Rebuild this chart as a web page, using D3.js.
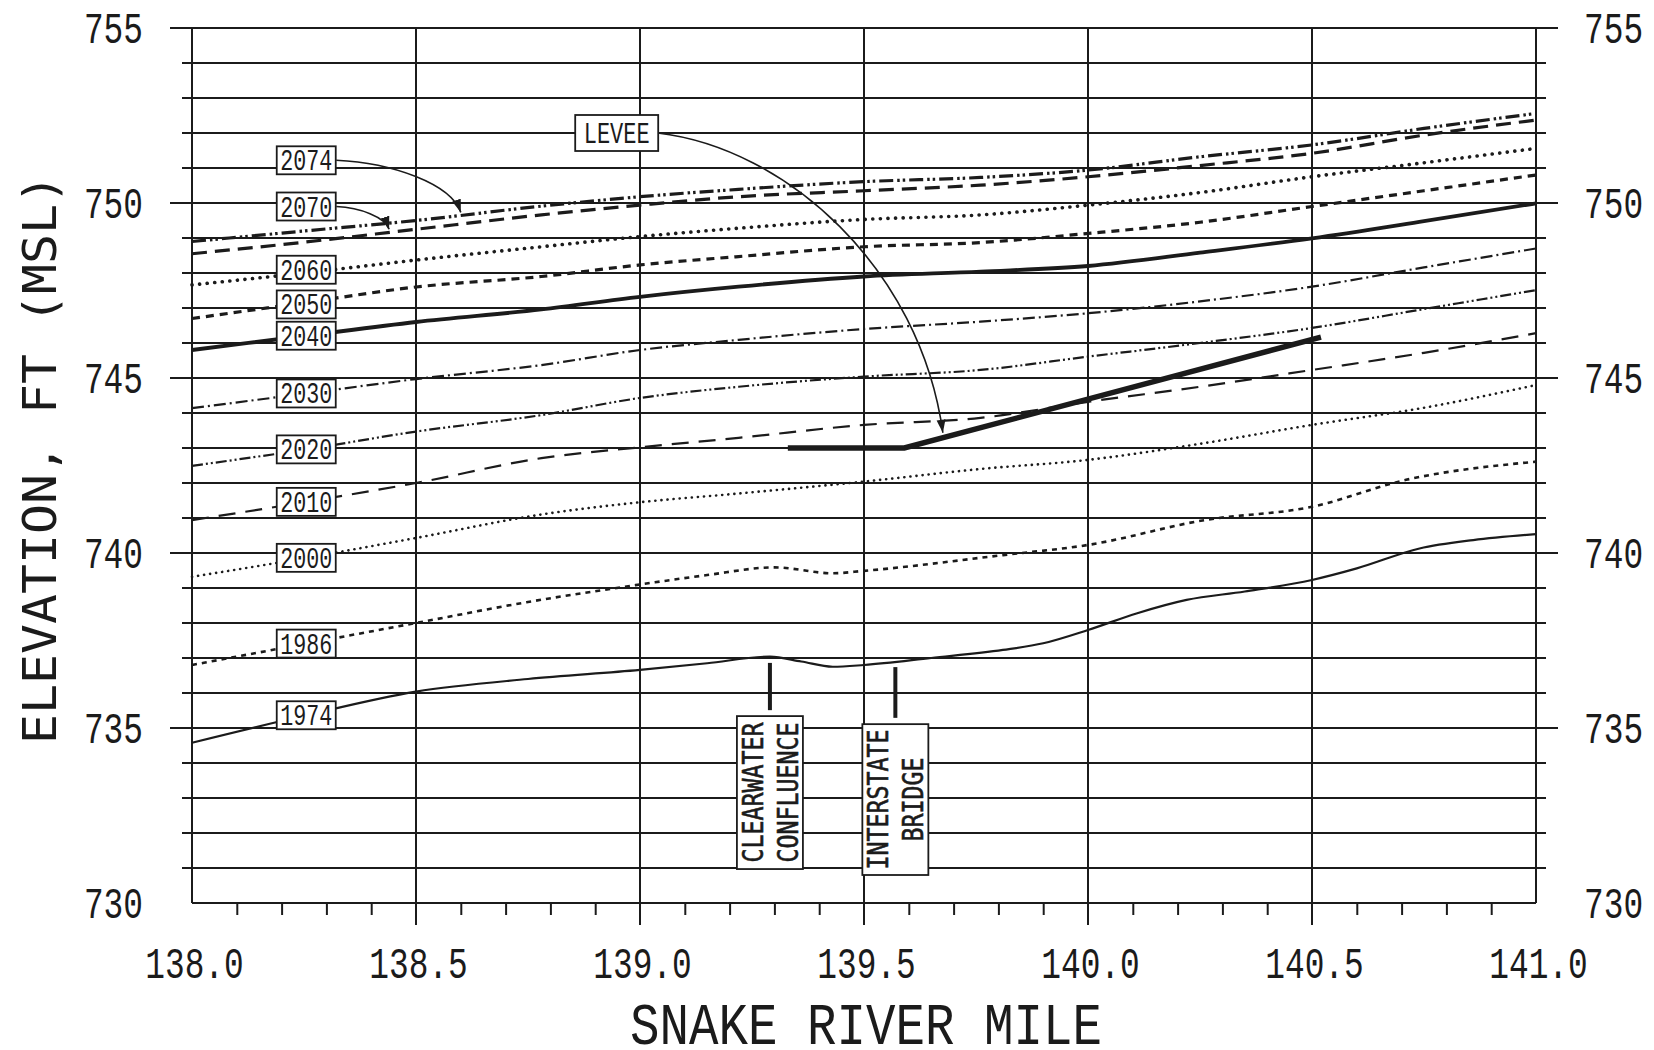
<!DOCTYPE html>
<html>
<head>
<meta charset="utf-8">
<script src="https://cdn.jsdelivr.net/npm/d3@7"></script>
<style>
  html, body { margin: 0; padding: 0; background: #fff; }
  svg { display: block; }
</style>
</head>
<body>
<div id="chart"></div>
<script>
/*************************************/
/* Data                              */
/*************************************/

// River miles where the projected water surfaces were read
const miles = [138.0, 138.25, 138.5, 138.78, 139.0, 139.22, 139.5, 139.76, 140.0, 140.25, 140.5, 140.75, 141.0];

// Projected water surface elevations, ft (MSL)
const wse2074 = [748.9, 749.2, 749.5, 749.91, 750.18, 750.39, 750.61, 750.73, 750.94, 751.32, 751.66, 752.13, 752.56];
const wse2070 = [748.55, 748.88, 749.25, 749.66, 749.94, 750.18, 750.35, 750.51, 750.75, 751.07, 751.42, 751.94, 752.37];
const wse2060 = [747.66, 748.0, 748.37, 748.75, 749.04, 749.28, 749.53, 749.66, 749.94, 750.3, 750.75, 751.15, 751.56];
const wse2050 = [746.7, 747.15, 747.6, 747.9, 748.23, 748.47, 748.75, 748.87, 749.13, 749.45, 749.9, 750.35, 750.8];
const wse2040 = [745.8, 746.2, 746.6, 746.96, 747.32, 747.61, 747.9, 748.04, 748.2, 748.58, 748.99, 749.48, 749.99];
const wse2030 = [744.14, 744.55, 744.97, 745.37, 745.8, 746.09, 746.4, 746.61, 746.85, 747.19, 747.61, 748.16, 748.7];
const wse2020 = [742.49, 742.95, 743.47, 743.94, 744.43, 744.75, 745.04, 745.23, 745.61, 746.0, 746.43, 746.97, 747.51];
const wse2010 = [740.94, 741.45, 742.0, 742.71, 743.02, 743.29, 743.66, 743.86, 744.32, 744.75, 745.23, 745.72, 746.28];
const wse2000 = [739.32, 739.85, 740.43, 741.1, 741.45, 741.7, 742.04, 742.4, 742.66, 743.12, 743.66, 744.15, 744.8];

// 1986 and 1974 profiles (more points, they bend at the confluence)
const miles1986 = [138.0, 138.25, 138.5, 138.75, 139.0, 139.15, 139.3, 139.43, 139.5, 139.81, 140.0, 140.26, 140.5, 140.71, 141.0];
const wse1986 = [736.8, 737.4, 738.0, 738.6, 739.1, 739.37, 739.59, 739.42, 739.49, 739.94, 740.23, 740.94, 741.32, 742.09, 742.61];

const miles1974 = [138.0, 138.25, 138.5, 138.75, 139.0, 139.15, 139.29, 139.36, 139.43, 139.5, 139.65, 139.81, 139.9, 140.0, 140.11, 140.22, 140.35, 140.5, 140.6, 140.74, 140.86, 141.0];
const wse1974 = [734.58, 735.35, 736.04, 736.4, 736.66, 736.85, 737.04, 736.9, 736.75, 736.8, 737.0, 737.23, 737.42, 737.8, 738.28, 738.66, 738.9, 739.23, 739.56, 740.13, 740.37, 740.54];

// Levee crest
const leveeMiles = [139.33, 139.59, 140.52];
const leveeElev = [743.0, 743.0, 746.17];

// Tick labels
const xTickLabels = [138.0, 138.5, 139.0, 139.5, 140.0, 140.5, 141.0];
const yTickLabels = [730, 735, 740, 745, 750, 755];


/*************************************/
/* Setup                             */
/*************************************/

const width = 1654;
const height = 1050;
const ink = '#1b1b1b';
const numFont = "'Liberation Mono', 'DejaVu Sans Mono', monospace";
const wideFont = "'DejaVu Sans Mono', 'Liberation Mono', monospace";

const x = d3.scaleLinear().domain([138, 141]).range([192, 1536]);
const y = d3.scaleLinear().domain([730, 755]).range([903, 28]);

const svg = d3.select('#chart')
  .append('svg')
  .attr('width', width)
  .attr('height', height);

// squeeze a text horizontally to a given width (old plotter lettering is narrow)
const condense = (sel, widthOf) => sel.each(function() {
  const t = d3.select(this);
  const k = widthOf(t.text()) / this.getComputedTextLength();
  const tx = +t.attr('x') || 0;
  const ty = +t.attr('y') || 0;
  const prev = t.attr('transform') || '';
  t.attr('x', 0).attr('y', 0)
    .attr('transform', `${prev} translate(${tx},${ty}) scale(${k},1)`);
});

// arrow head
svg.append('defs').append('marker')
  .attr('id', 'head')
  .attr('markerUnits', 'userSpaceOnUse')
  .attr('markerWidth', 14)
  .attr('markerHeight', 10)
  .attr('refX', 13)
  .attr('refY', 4.5)
  .attr('orient', 'auto')
  .append('path')
    .attr('d', 'M0,0 L13,4.5 L0,9 Z')
    .attr('fill', ink);


/*************************************/
/* Grid                              */
/*************************************/

const elevs = d3.range(730, 756);
const hExt = d => d === 730 ? 0 : (d % 5 === 0 ? 22 : 10);

svg.append('g')
  .attr('stroke', ink)
  .attr('stroke-width', 2)
  .selectAll('line')
    .data(elevs)
    .join('line')
      .attr('x1', d => x(138) - hExt(d))
      .attr('x2', d => x(141) + hExt(d))
      .attr('y1', d => y(d))
      .attr('y2', d => y(d));

const halfMiles = d3.range(0, 7).map(i => 138 + i * 0.5);
svg.append('g')
  .attr('stroke', ink)
  .attr('stroke-width', 2)
  .selectAll('line')
    .data(halfMiles)
    .join('line')
      .attr('x1', d => x(d))
      .attr('x2', d => x(d))
      .attr('y1', y(755))
      .attr('y2', (d, i) => y(730) + (i === 0 || i === 6 ? 0 : 22));

// minor mile ticks (every 0.1)
const tenthMiles = d3.range(1, 30).filter(i => i % 5 !== 0).map(i => 138 + i / 10);
const minorAxis = svg.append('g')
  .attr('transform', `translate(0,${y(730)})`)
  .call(d3.axisBottom(x).tickValues(tenthMiles).tickSize(12).tickFormat(''));
minorAxis.select('.domain').remove();
minorAxis.selectAll('line').attr('stroke', ink).attr('stroke-width', 2);


/*************************************/
/* Axis labels                       */
/*************************************/

const styleNums = g => {
  g.select('.domain').remove();
  g.selectAll('line').remove();
  g.selectAll('text')
    .attr('fill', ink)
    .attr('font-family', numFont)
    .attr('font-size', 44);
};

const perChar = 19.7;

svg.append('g')
  .attr('transform', `translate(0,${y(730)})`)
  .call(d3.axisBottom(x).tickValues(xTickLabels).tickSize(0).tickFormat(d3.format('.1f')))
  .call(styleNums)
  .selectAll('text')
    .attr('x', 2).attr('y', 75).attr('dy', 0)
    .call(condense, s => s.length * perChar);

svg.append('g')
  .attr('transform', `translate(${x(138)},0)`)
  .call(d3.axisLeft(y).tickValues(yTickLabels).tickSize(0).tickPadding(49))
  .call(styleNums)
  .selectAll('text')
    .attr('dy', 0).attr('y', 14.5)
    .call(condense, s => s.length * perChar);

svg.append('g')
  .attr('transform', `translate(${x(141)},0)`)
  .call(d3.axisRight(y).tickValues(yTickLabels).tickSize(0).tickPadding(48))
  .call(styleNums)
  .selectAll('text')
    .attr('dy', 0).attr('y', 14.5)
    .call(condense, s => s.length * perChar);

// axis titles
svg.append('text')
  .attr('transform', 'translate(866,1044)')
  .attr('text-anchor', 'middle')
  .attr('font-family', numFont)
  .attr('font-size', 60)
  .attr('fill', ink)
  .text('SNAKE RIVER MILE')
  .call(condense, () => 472);

svg.append('text')
  .attr('transform', 'translate(56,459) rotate(-90)')
  .attr('text-anchor', 'middle')
  .attr('font-family', wideFont)
  .attr('font-size', 47)
  .attr('fill', ink)
  .text('ELEVATION, FT (MSL)')
  .call(condense, () => 570);


/*************************************/
/* Profiles                          */
/*************************************/

const series = [
  { name: '2074', miles: miles, elev: wse2074 },
  { name: '2070', miles: miles, elev: wse2070 },
  { name: '2060', miles: miles, elev: wse2060 },
  { name: '2050', miles: miles, elev: wse2050 },
  { name: '2040', miles: miles, elev: wse2040 },
  { name: '2030', miles: miles, elev: wse2030 },
  { name: '2020', miles: miles, elev: wse2020 },
  { name: '2010', miles: miles, elev: wse2010 },
  { name: '2000', miles: miles, elev: wse2000 },
  { name: '1986', miles: miles1986, elev: wse1986 },
  { name: '1974', miles: miles1974, elev: wse1974 }
];

const lineStyle = {
  '2074': { w: 3.2, dash: '14,4,2.5,3,2.5,4' },
  '2070': { w: 3.2, dash: '15,8' },
  '2060': { w: 3.6, dash: '0.1,7.5', cap: 'round' },
  '2050': { w: 3.2, dash: '8,6' },
  '2040': { w: 3.8, dash: null },
  '2030': { w: 2.2, dash: '12,4,2,4' },
  '2020': { w: 2.2, dash: '11,3,2,3,2,3' },
  '2010': { w: 2.2, dash: '17,10' },
  '2000': { w: 2.6, dash: '0.1,6', cap: 'round' },
  '1986': { w: 2.6, dash: '5,5' },
  '1974': { w: 2.2, dash: null }
};

const line = d3.line()
  .x(d => x(d[0]))
  .y(d => y(d[1]))
  .curve(d3.curveMonotoneX);

svg.append('g')
  .attr('fill', 'none')
  .attr('stroke', ink)
  .selectAll('path')
    .data(series)
    .join('path')
      .attr('d', s => line(d3.zip(s.miles, s.elev)))
      .attr('stroke-width', s => lineStyle[s.name].w)
      .attr('stroke-dasharray', s => lineStyle[s.name].dash)
      .attr('stroke-linecap', s => lineStyle[s.name].cap || 'butt');

// levee
svg.append('path')
  .attr('d', d3.line().x(d => x(d[0])).y(d => y(d[1]))(d3.zip(leveeMiles, leveeElev)))
  .attr('fill', 'none')
  .attr('stroke', ink)
  .attr('stroke-width', 5.5);


/*************************************/
/* Annotations                       */
/*************************************/

// value of a profile at a given mile
const valueAt = (s, m) => d3.scaleLinear().domain(s.miles).range(s.elev)(m);

const curvedArrow = (sx, sy, tx, ty) => {
  const dx = tx - sx, dy = ty - sy;
  return `M${sx},${sy} C${sx + dx * 0.45},${sy + dy * 0.05} ${tx - dx * 0.08},${sy + dy * 0.45} ${tx},${ty}`;
};

const labelMile = 138.255;
// labels drawn off their line, with an arrow to it
const offLine = { '2074': { elev: 751.22, tip: 138.6 }, '2070': { elev: 749.9, tip: 138.44 } };
// small vertical nudges (px) where labels crowd
const nudge = { '2060': -3, '2050': 2 };

const labels = series.map(s => {
  const o = offLine[s.name];
  const cx = x(labelMile);
  const cy = (o ? y(o.elev) : y(valueAt(s, labelMile))) + (nudge[s.name] || 0);
  return { s, cx, cy, o };
});

// arrows first, boxes on top
svg.append('g')
  .selectAll('path')
    .data(labels.filter(d => d.o))
    .join('path')
      .attr('d', d => curvedArrow(d.cx + 30, d.cy, x(d.o.tip), y(valueAt(d.s, d.o.tip)) - 3))
      .attr('fill', 'none')
      .attr('stroke', ink)
      .attr('stroke-width', 1.6)
      .attr('marker-end', 'url(#head)');

const lab = svg.append('g')
  .selectAll('g')
    .data(labels)
    .join('g')
      .attr('transform', d => `translate(${d.cx},${d.cy})`);

lab.append('rect')
  .attr('x', -29.5).attr('y', -14)
  .attr('width', 59).attr('height', 28)
  .attr('fill', '#fff')
  .attr('stroke', ink)
  .attr('stroke-width', 1.8);

lab.append('text')
  .attr('text-anchor', 'middle')
  .attr('y', 10)
  .attr('font-family', numFont)
  .attr('font-size', 29)
  .attr('fill', ink)
  .text(d => d.s.name)
  .call(condense, () => 52);

// LEVEE label
const leveeLabel = { mile: 138.948, elev: 752.0 };
const leveeTip = 139.676;
const levee = { miles: leveeMiles, elev: leveeElev };
const lx = x(leveeLabel.mile), ly = y(leveeLabel.elev);

svg.append('path')
  .attr('d', curvedArrow(lx + 41, ly, x(leveeTip), y(valueAt(levee, leveeTip)) - 5))
  .attr('fill', 'none')
  .attr('stroke', ink)
  .attr('stroke-width', 1.6)
  .attr('marker-end', 'url(#head)');

svg.append('rect')
  .attr('x', lx - 41.5).attr('y', ly - 18)
  .attr('width', 83).attr('height', 36)
  .attr('fill', '#fff')
  .attr('stroke', ink)
  .attr('stroke-width', 1.8);

svg.append('text')
  .attr('x', lx).attr('y', ly + 10)
  .attr('text-anchor', 'middle')
  .attr('font-family', numFont)
  .attr('font-size', 30)
  .attr('fill', ink)
  .text('LEVEE')
  .call(condense, () => 66);

// Landmarks below the profiles
const landmarks = [
  { text: ['CLEARWATER', 'CONFLUENCE'], mile: 139.29, leader: [736.86, 735.51], box: [735.34, 730.97] },
  { text: ['INTERSTATE', 'BRIDGE'], mile: 139.57, leader: [736.74, 735.29], box: [735.11, 730.8] }
];

const lm = svg.append('g')
  .selectAll('g')
    .data(landmarks)
    .join('g');

lm.append('line')
  .attr('x1', d => x(d.mile)).attr('x2', d => x(d.mile))
  .attr('y1', d => y(d.leader[0])).attr('y2', d => y(d.leader[1]))
  .attr('stroke', ink)
  .attr('stroke-width', 4);

lm.append('rect')
  .attr('x', d => x(d.mile) - 33)
  .attr('y', d => y(d.box[0]))
  .attr('width', 66)
  .attr('height', d => y(d.box[1]) - y(d.box[0]))
  .attr('fill', '#fff')
  .attr('stroke', ink)
  .attr('stroke-width', 1.8);

lm.each(function(d) {
  const cy = (y(d.box[0]) + y(d.box[1])) / 2;
  d3.select(this).selectAll('text')
    .data(d.text)
    .join('text')
      .attr('transform', (t, i) => `translate(${x(d.mile) + (i === 0 ? -17.5 : 17.5) + 10.5},${cy}) rotate(-90)`)
      .attr('text-anchor', 'middle')
      .attr('font-family', wideFont)
      .attr('font-size', 29)
      .attr('fill', ink)
      .attr('stroke', ink)
      .attr('stroke-width', 0.6)
      .text(t => t)
      .call(condense, t => t.length * 14);
});
</script>
</body>
</html>
